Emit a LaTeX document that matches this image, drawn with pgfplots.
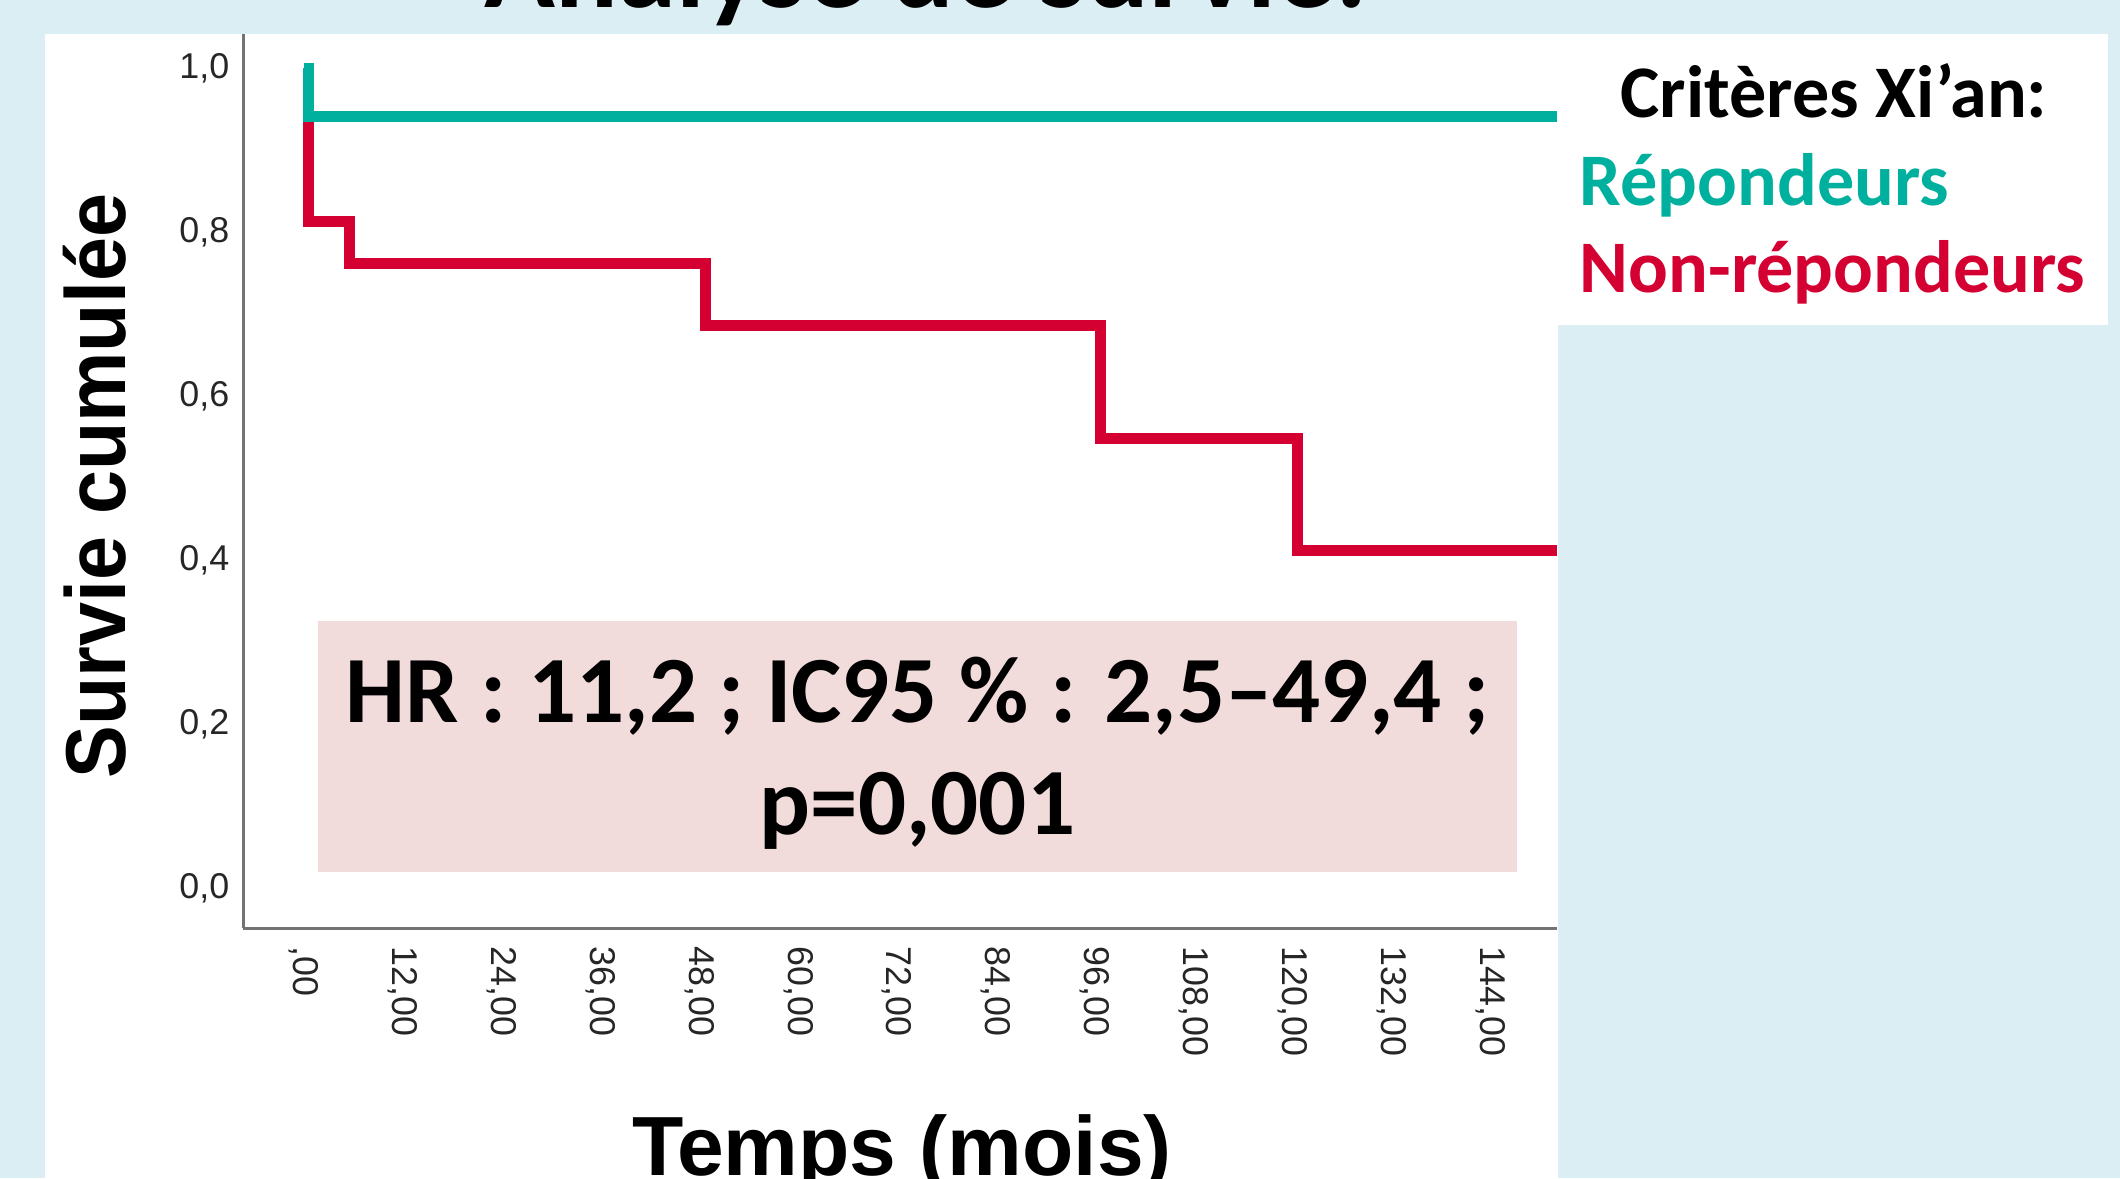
\documentclass[border=0pt]{standalone}
\usepackage{pgfplots}
\pgfplotsset{compat=1.18}
\usepackage{fontspec}
\usepackage{graphicx}
\setmainfont{Carlito}
\newfontfamily\arial{Liberation Sans}
\definecolor{bg}{RGB}{219,238,244}
\definecolor{kmgreen}{RGB}{0,176,158}
\definecolor{kmred}{RGB}{213,0,50}
\definecolor{hrbox}{RGB}{242,220,219}

\begin{document}
\begin{tikzpicture}
\useasboundingbox (0mm,0mm) rectangle (212mm,117.8mm);
\clip (0mm,0mm) rectangle (212mm,117.8mm);
\fill[bg] (0mm,0mm) rectangle (212mm,117.8mm);
\fill[white] (4.5mm,0mm) rectangle (155.8mm,114.4mm);
\fill[white] (155.8mm,85.3mm) rectangle (210.8mm,114.4mm);

% titre (coupe en haut)
\node[anchor=base, inner sep=0pt, font=\bfseries\fontsize{33.3}{40}\selectfont] at (92.6mm,117.0mm) {Analyse de survie:};

\begin{axis}[
  at={(24.3mm,25.0mm)}, anchor=south west,
  scale only axis, width=131.4mm, height=89.4mm,
  xmin=-7.4, xmax=152.1, ymin=-0.0488, ymax=1.0415,
  axis x line*=bottom, axis y line*=left,
  axis line style={draw=gray!90!black, line width=0.3mm, -},
  xtick={0,12,...,144},
  xticklabels={{,00},{12,00},{24,00},{36,00},{48,00},{60,00},{72,00},{84,00},{96,00},{108,00},{120,00},{132,00},{144,00}},
  ytick={0,0.2,0.4,0.6,0.8,1},
  yticklabels={{0,0},{0,2},{0,4},{0,6},{0,8},{1,0}},
  major tick length=0pt,
  tick style={draw=none},
  tick label style={font=\arial\fontsize{10.2}{12}\selectfont, text=black!85, inner sep=0pt},
  xticklabel style={rotate=-90, anchor=west},
  xticklabel shift=1.8mm, yticklabel shift=1.3mm,
  yticklabel style={anchor=east},
]
% Non-repondeurs
\addplot[kmred, line width=1.1mm, line join=miter, const plot] coordinates {
  (0,1) (0.55,0.8125) (5.5,0.7617) (48.7,0.6855) (96.7,0.5484) (120.6,0.4113) (152.1,0.4113)
};
% Repondeurs
\addplot[kmgreen, line width=1.1mm, line join=miter, const plot] coordinates {
  (0,1) (0.55,0.9412) (152.1,0.9412)
};
\end{axis}

% encadre HR
\fill[hrbox] (31.8mm,30.6mm) rectangle (151.7mm,55.7mm);
\node[anchor=base, inner sep=0pt, font=\bfseries\fontsize{27}{32}\selectfont] at (91.75mm,45.5mm) {HR : 11,2 ; IC95 \% : 2,5--49,4 ;};
\node[anchor=base, inner sep=0pt, font=\bfseries\fontsize{27}{32}\selectfont] at (91.75mm,34.3mm) {p=0,001};

% legende
\node[anchor=base, inner sep=0pt, font=\bfseries\fontsize{21.1}{25}\selectfont] at (183.4mm,106.0mm) {Critères Xi’an:};
\node[anchor=base west, inner sep=0pt, text=kmgreen, font=\bfseries\fontsize{21.1}{25}\selectfont] at (157.9mm,97.25mm) {Répondeurs};
\node[anchor=base west, inner sep=0pt, text=kmred, font=\bfseries\fontsize{21.1}{25}\selectfont] at (157.9mm,88.5mm) {Non-répondeurs};

% titres des axes
\node[anchor=base, inner sep=0pt, font=\arial\bfseries\fontsize{23.9}{28}\selectfont] at (90.2mm,0.3mm) {Temps (mois)};
\node[rotate=90, inner sep=0pt, font=\arial\bfseries\fontsize{24.2}{29}\selectfont] at (9.45mm,69.2mm) {\scalebox{0.93}[1]{Survie cumulée}};
\end{tikzpicture}
\end{document}
